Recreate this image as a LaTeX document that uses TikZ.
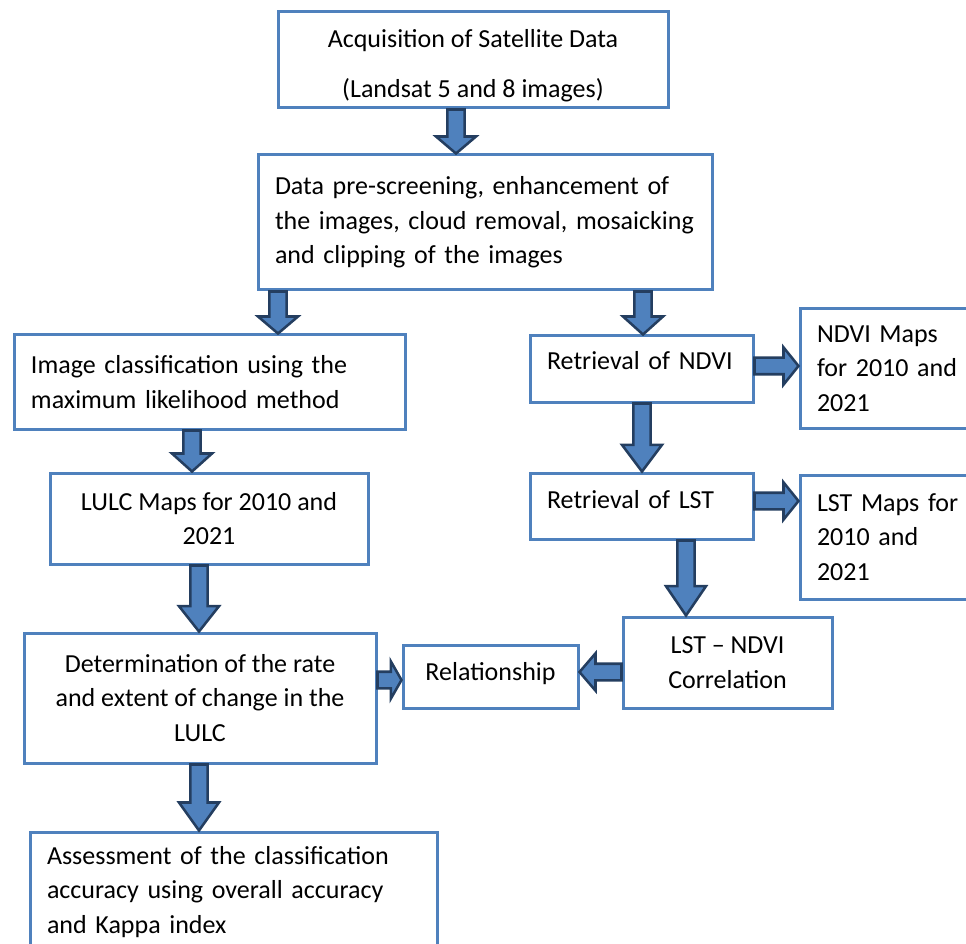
\documentclass[tikz,border=0pt]{standalone}
\usepackage{fontspec}
\setmainfont{Carlito}
\usetikzlibrary{calc}
\definecolor{boxblue}{RGB}{79,129,189}
\definecolor{arrowfill}{RGB}{79,129,189}
\definecolor{arrowline}{RGB}{36,62,96}
\newcommand\fsz{\fontsize{19.5pt}{26pt}\selectfont}
\tikzset{
  box/.style={draw=boxblue, line width=2.25pt, fill=white, inner ysep=0pt, font=\fsz},
  lbox/.style={box, align=left, inner xsep=12.75pt},
  cbox/.style={box, align=center, inner xsep=0pt},
  barrow/.style={fill=arrowfill, draw=arrowline, line width=1.9pt, line join=miter},
}
% vertical block arrow: #1 start, #2 tip, #3 head length
\newcommand\downarr[3]{%
  \path[barrow] let \p1=(#1), \p2=(#2) in
  ({\x1-6.5pt},\y1) -- ({\x1-6.5pt},{\y2+#3}) -- ({\x1-15pt},{\y2+#3}) -- (\x1,\y2)
  -- ({\x1+15pt},{\y2+#3}) -- ({\x1+6.5pt},{\y2+#3}) -- ({\x1+6.5pt},\y1) -- cycle;}
% horizontal block arrow: #1 start, #2 tip, #3 signed head length
\newcommand\horarr[3]{%
  \path[barrow] let \p1=(#1), \p2=(#2) in
  (\x1,{\y1+6.2pt}) -- ({\x2-(#3)},{\y1+6.2pt}) -- ({\x2-(#3)},{\y1+14pt}) -- (\x2,\y1)
  -- ({\x2-(#3)},{\y1-14pt}) -- ({\x2-(#3)},{\y1-6.2pt}) -- (\x1,{\y1-6.2pt}) -- cycle;}
\begin{document}
\begin{tikzpicture}[x={(0.75pt,0)}, y={(0,-0.75pt)}]
\useasboundingbox (0,0) rectangle (966,944);
\clip (0,0) rectangle (966,944);

\node[cbox, minimum width=292.5pt, minimum height=72pt] (b1) at (473,60)
  {\rule{0pt}{22pt}Acquisition of Satellite Data\\[11.5pt](Landsat 5 and 8 images)};
\node[lbox, text width=315pt, minimum height=101.25pt] (b2) at (485,222.5)
  {\mbox{Data pre-screening, enhancement of}\\\mbox{the images, cloud removal, mosaicking}\\\mbox{and clipping of the images}};
\node[lbox, text width=267.75pt, minimum height=70.5pt] (b3) at (209.5,382)
  {\mbox{Image classification using the}\\\mbox{maximum likelihood method}};
\node[lbox, text width=141.75pt, minimum height=49.5pt, text height=13pt, text depth=11.5pt] (b4) at (641.5,369)
  {\mbox{Retrieval of NDVI}};
\node[lbox, text width=124.5pt, minimum height=89.25pt] (b5) at (900,368.5)
  {\mbox{NDVI Maps}\\\mbox{for 2010 and}\\\mbox{2021}};
\node[cbox, minimum width=238.5pt, minimum height=68.25pt] (b6) at (209,518.5)
  {LULC Maps for 2010 and\\2021};
\node[lbox, text width=141.75pt, minimum height=49.5pt, text height=13pt, text depth=10pt] (b7) at (641.5,506)
  {\mbox{Retrieval of LST}};
\node[lbox, text width=124.5pt, minimum height=93pt] (b8) at (900,537)
  {\mbox{LST Maps for}\\\mbox{2010 and}\\\mbox{2021}};
\node[cbox, minimum width=156.75pt, minimum height=68.25pt] (b9) at (727.5,662.5)
  {LST -- NDVI\\Correlation};
\node[cbox, minimum width=131.25pt, minimum height=47.25pt, text height=13pt, text depth=7pt] (b10) at (490.5,676.5)
  {Relationship};
\node[cbox, minimum width=264pt, minimum height=97.5pt] (b11) at (200,698)
  {Determination of the rate\\and extent of change in the\\LULC};
\node[lbox, text width=279.75pt, minimum height=90pt] (b12) at (233.5,892)
  {\mbox{Assessment of the classification}\\\mbox{accuracy using overall accuracy}\\\mbox{and Kappa index}};

\coordinate (ca1) at (456,0);
\coordinate (ca2) at (278,0);
\coordinate (ca3) at (643,0);
\coordinate (ca4) at (192,0);
\coordinate (ca5) at (642,0);
\coordinate (ca8) at (199,0);
\coordinate (ca9) at (686,0);
\coordinate (ca6) at (0,366);
\coordinate (ca7) at (0,501);
\coordinate (ca10) at (0,672);
\coordinate (ca11) at (0,680);

\downarr{b1.south -| ca1}{b2.north -| ca1}{12.75pt}
\downarr{b2.south -| ca2}{b3.north -| ca2}{12.75pt}
\downarr{b2.south -| ca3}{b4.north -| ca3}{13.5pt}
\downarr{b3.south -| ca4}{b6.north -| ca4}{13.5pt}
\downarr{b4.south -| ca5}{b7.north -| ca5}{20pt}
\downarr{b6.south -| ca8}{b11.north -| ca8}{19pt}
\downarr{b7.south -| ca9}{b9.north -| ca9}{22pt}
\downarr{b11.south -| ca8}{b12.north -| ca8}{21pt}
\horarr{b4.east |- ca6}{b5.west |- ca6}{11.25pt}
\horarr{b7.east |- ca7}{b8.west |- ca7}{11.25pt}
\horarr{b9.west |- ca10}{b10.east |- ca10}{-12pt}
\horarr{b11.east |- ca11}{b10.west |- ca11}{8pt}
\end{tikzpicture}
\end{document}
